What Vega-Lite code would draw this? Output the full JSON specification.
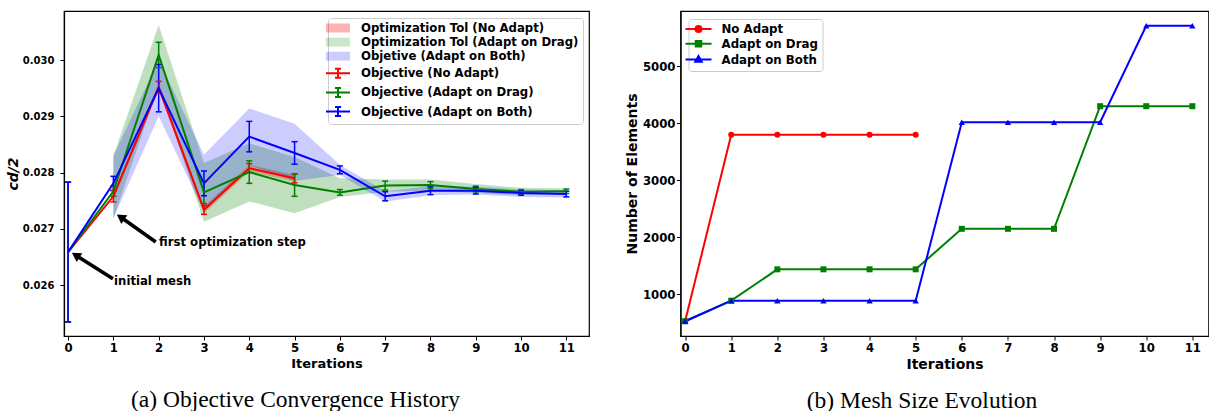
{
  "$schema": "https://vega.github.io/schema/vega-lite/v6.json",
  "padding": {"left": 6, "top": 10, "right": 0, "bottom": 0},
  "background": "white",
  "config": {
    "font": "DejaVu Sans",
    "view": {"stroke": "black", "strokeWidth": 1.2},
    "axis": {"domainColor": "black", "domainWidth": 1.2, "tickColor": "black", "tickSize": 4, "labelFont": "DejaVu Sans", "labelFontWeight": "bold", "labelColor": "black", "titleFont": "DejaVu Sans", "titleFontWeight": "bold", "titleColor": "black", "grid": false, "labelFlush": false},
    "concat": {"spacing": 34.5}
  },
  "datasets": {
    "obj": [
      {"it":0,"band":"Optimization Tol (No Adapt)","line":"Objective (No Adapt)","m":0.02659,"elo":0.02535,"ehi":0.02783,"blo":null,"bhi":null},
      {"it":1,"band":"Optimization Tol (No Adapt)","line":"Objective (No Adapt)","m":0.02758,"elo":0.02748,"ehi":0.02768,"blo":0.02752,"bhi":0.02764},
      {"it":2,"band":"Optimization Tol (No Adapt)","line":"Objective (No Adapt)","m":0.02952,"elo":0.02942,"ehi":0.02962,"blo":0.02946,"bhi":0.02958},
      {"it":3,"band":"Optimization Tol (No Adapt)","line":"Objective (No Adapt)","m":0.02734,"elo":0.02726,"ehi":0.02742,"blo":0.02728,"bhi":0.0274},
      {"it":4,"band":"Optimization Tol (No Adapt)","line":"Objective (No Adapt)","m":0.02808,"elo":0.028,"ehi":0.02816,"blo":0.02802,"bhi":0.02814},
      {"it":5,"band":"Optimization Tol (No Adapt)","line":"Objective (No Adapt)","m":0.0279,"elo":0.02782,"ehi":0.02798,"blo":0.02784,"bhi":0.02796},
      {"it":0,"band":"Optimization Tol (Adapt on Drag)","line":"Objective (Adapt on Drag)","m":0.02659,"elo":0.02535,"ehi":0.02783,"blo":null,"bhi":null},
      {"it":1,"band":"Optimization Tol (Adapt on Drag)","line":"Objective (Adapt on Drag)","m":0.02767,"elo":0.02758,"ehi":0.02776,"blo":0.02718,"bhi":0.0283},
      {"it":2,"band":"Optimization Tol (Adapt on Drag)","line":"Objective (Adapt on Drag)","m":0.03009,"elo":0.029865,"ehi":0.030315,"blo":0.02955,"bhi":0.03062},
      {"it":3,"band":"Optimization Tol (Adapt on Drag)","line":"Objective (Adapt on Drag)","m":0.02765,"elo":0.02745,"ehi":0.02785,"blo":0.02713,"bhi":0.02817},
      {"it":4,"band":"Optimization Tol (Adapt on Drag)","line":"Objective (Adapt on Drag)","m":0.02801,"elo":0.02781,"ehi":0.02821,"blo":0.02749,"bhi":0.02852},
      {"it":5,"band":"Optimization Tol (Adapt on Drag)","line":"Objective (Adapt on Drag)","m":0.02778,"elo":0.02758,"ehi":0.02798,"blo":0.02728,"bhi":0.02828},
      {"it":6,"band":"Optimization Tol (Adapt on Drag)","line":"Objective (Adapt on Drag)","m":0.02765,"elo":0.0276,"ehi":0.0277,"blo":0.02757,"bhi":0.0279},
      {"it":7,"band":"Optimization Tol (Adapt on Drag)","line":"Objective (Adapt on Drag)","m":0.02777,"elo":0.02769,"ehi":0.02785,"blo":0.02766,"bhi":0.02788},
      {"it":8,"band":"Optimization Tol (Adapt on Drag)","line":"Objective (Adapt on Drag)","m":0.02778,"elo":0.02772,"ehi":0.02784,"blo":0.02768,"bhi":0.02788},
      {"it":9,"band":"Optimization Tol (Adapt on Drag)","line":"Objective (Adapt on Drag)","m":0.02771,"elo":0.02766,"ehi":0.02776,"blo":0.02764,"bhi":0.0278},
      {"it":10,"band":"Optimization Tol (Adapt on Drag)","line":"Objective (Adapt on Drag)","m":0.02766,"elo":0.02762,"ehi":0.0277,"blo":0.0276,"bhi":0.02773},
      {"it":11,"band":"Optimization Tol (Adapt on Drag)","line":"Objective (Adapt on Drag)","m":0.02767,"elo":0.02763,"ehi":0.02771,"blo":0.02762,"bhi":0.02772},
      {"it":0,"band":"Objetive (Adapt on Both)","line":"Objective (Adapt on Both)","m":0.02659,"elo":0.02535,"ehi":0.02783,"blo":null,"bhi":null},
      {"it":1,"band":"Objetive (Adapt on Both)","line":"Objective (Adapt on Both)","m":0.02781,"elo":0.027685,"ehi":0.027935,"blo":0.02719,"bhi":0.0283},
      {"it":2,"band":"Objetive (Adapt on Both)","line":"Objective (Adapt on Both)","m":0.0295,"elo":0.02908,"ehi":0.02992,"blo":0.029,"bhi":0.03},
      {"it":3,"band":"Objetive (Adapt on Both)","line":"Objective (Adapt on Both)","m":0.02781,"elo":0.02759,"ehi":0.02803,"blo":0.02731,"bhi":0.02832},
      {"it":4,"band":"Objetive (Adapt on Both)","line":"Objective (Adapt on Both)","m":0.02864,"elo":0.02837,"ehi":0.02891,"blo":0.02813,"bhi":0.02914},
      {"it":5,"band":"Objetive (Adapt on Both)","line":"Objective (Adapt on Both)","m":0.02835,"elo":0.02815,"ehi":0.02855,"blo":0.02785,"bhi":0.02887},
      {"it":6,"band":"Objetive (Adapt on Both)","line":"Objective (Adapt on Both)","m":0.02805,"elo":0.02798,"ehi":0.02812,"blo":0.02796,"bhi":0.02814},
      {"it":7,"band":"Objetive (Adapt on Both)","line":"Objective (Adapt on Both)","m":0.02758,"elo":0.0275,"ehi":0.02766,"blo":0.02749,"bhi":0.02767},
      {"it":8,"band":"Objetive (Adapt on Both)","line":"Objective (Adapt on Both)","m":0.02768,"elo":0.02761,"ehi":0.02775,"blo":0.0276,"bhi":0.02776},
      {"it":9,"band":"Objetive (Adapt on Both)","line":"Objective (Adapt on Both)","m":0.02768,"elo":0.02762,"ehi":0.02774,"blo":0.02761,"bhi":0.02775},
      {"it":10,"band":"Objetive (Adapt on Both)","line":"Objective (Adapt on Both)","m":0.02764,"elo":0.0276,"ehi":0.02768,"blo":0.02757,"bhi":0.0277},
      {"it":11,"band":"Objetive (Adapt on Both)","line":"Objective (Adapt on Both)","m":0.02762,"elo":0.02757,"ehi":0.02767,"blo":0.02756,"bhi":0.02769}
    ],
    "ann": [
      {"label":"initial mesh","tx":0.99,"ty":0.026117,"hx":0.168,"hy":0.026535,"lx":1.015,"ly":0.026082},
      {"label":"first optimization step","tx":1.936,"ty":0.026768,"hx":1.159,"hy":0.027213,"lx":2.009,"ly":0.026768}
    ],
    "mesh": [
      {"it":0,"s":"No Adapt","n":530},{"it":1,"s":"No Adapt","n":3800},{"it":2,"s":"No Adapt","n":3800},{"it":3,"s":"No Adapt","n":3800},{"it":4,"s":"No Adapt","n":3800},{"it":5,"s":"No Adapt","n":3800},
      {"it":0,"s":"Adapt on Drag","n":530},{"it":1,"s":"Adapt on Drag","n":890},{"it":2,"s":"Adapt on Drag","n":1440},{"it":3,"s":"Adapt on Drag","n":1440},{"it":4,"s":"Adapt on Drag","n":1440},{"it":5,"s":"Adapt on Drag","n":1440},{"it":6,"s":"Adapt on Drag","n":2150},{"it":7,"s":"Adapt on Drag","n":2150},{"it":8,"s":"Adapt on Drag","n":2150},{"it":9,"s":"Adapt on Drag","n":4300},{"it":10,"s":"Adapt on Drag","n":4300},{"it":11,"s":"Adapt on Drag","n":4300},
      {"it":0,"s":"Adapt on Both","n":530},{"it":1,"s":"Adapt on Both","n":890},{"it":2,"s":"Adapt on Both","n":890},{"it":3,"s":"Adapt on Both","n":890},{"it":4,"s":"Adapt on Both","n":890},{"it":5,"s":"Adapt on Both","n":890},{"it":6,"s":"Adapt on Both","n":4020},{"it":7,"s":"Adapt on Both","n":4020},{"it":8,"s":"Adapt on Both","n":4020},{"it":9,"s":"Adapt on Both","n":4020},{"it":10,"s":"Adapt on Both","n":5710},{"it":11,"s":"Adapt on Both","n":5710}
    ]
  },
  "hconcat": [
    {
      "width": 525,
      "height": 325,
      "title": {"text": "(a) Objective Convergence History", "orient": "bottom", "font": "Liberation Serif", "fontSize": 23.5, "fontWeight": "normal", "color": "black", "anchor": "middle", "frame": "group", "dx": -31, "offset": 17},
      "layer": [
        {
          "data": {"name": "obj"},
          "mark": {"type": "area", "interpolate": "linear"},
          "encoding": {
            "x": {"field": "it", "type": "quantitative", "title": "Iterations", "scale": {"domain": [-0.09, 11.5], "nice": false, "zero": false}, "axis": {"values": [0,1,2,3,4,5,6,7,8,9,10,11], "format": "d", "labelFontSize": 11.7, "titleFontSize": 13, "labelPadding": 2, "titlePadding": 4}},
            "y": {"field": "blo", "type": "quantitative", "title": "cd/2", "scale": {"domain": [0.0251, 0.03087], "nice": false, "zero": false}, "axis": {"values": [0.026, 0.027, 0.028, 0.029, 0.03], "format": ".3f", "labelFontSize": 10, "titleFontSize": 14, "titleFontStyle": "italic", "labelPadding": 6, "titlePadding": 1.5}},
            "y2": {"field": "bhi"},
            "color": {
              "field": "band", "type": "nominal",
              "scale": {"domain": ["Optimization Tol (No Adapt)", "Optimization Tol (Adapt on Drag)", "Objetive (Adapt on Both)", "Objective (No Adapt)", "Objective (Adapt on Drag)", "Objective (Adapt on Both)"], "range": ["#ff0000", "#008000", "#0000ff", "#ff0000", "#008000", "#0000ff"]},
              "legend": {
                "orient": "top-right", "offset": 6.5, "title": null, "padding": 4, "rowPadding": 1.1, "symbolSize": 100, "labelOffset": 17,
                "labelFont": "DejaVu Sans", "labelFontWeight": "bold", "labelFontSize": 11.7, "labelColor": "black", "labelLimit": 400,
                "strokeColor": "#cccccc", "cornerRadius": 3, "fillColor": "white",
                "encoding": {
                  "symbols": {
                    "shape": {"condition": {"test": "indexof(datum.value, 'Objective (') === 0", "value": "M-2.4,0H2.4M0,-0.9V0.9M-0.6,-0.9H0.6M-0.6,0.9H0.6"}, "value": "M-2.4,-0.9H2.4V0.9H-2.4Z"},
                    "fillOpacity": {"value": {"expr": "indexof(datum.value, 'Objective (') === 0 ? 0 : (datum.value === 'Optimization Tol (No Adapt)' ? 0.3 : 0.2)"}},
                    "strokeOpacity": {"condition": {"test": "indexof(datum.value, 'Objective (') === 0", "value": 1}, "value": 0},
                    "strokeWidth": {"value": 2},
                    "opacity": {"value": 1}
                  }
                }
              }
            },
            "fillOpacity": {"field": "band", "type": "nominal", "scale": {"domain": ["Optimization Tol (No Adapt)", "Optimization Tol (Adapt on Drag)", "Objetive (Adapt on Both)"], "range": [0.3, 0.2, 0.2]}, "legend": null}
          }
        },
        {
          "data": {"name": "obj"},
          "mark": {"type": "rule", "strokeWidth": 1.5},
          "encoding": {
            "x": {"field": "it", "type": "quantitative", "title": "Iterations"},
            "y": {"field": "elo", "type": "quantitative", "title": "cd/2"},
            "y2": {"field": "ehi"},
            "color": {"field": "line", "type": "nominal", "legend": null}
          }
        },
        {
          "data": {"name": "obj"},
          "mark": {"type": "point", "shape": "M-1,0H1", "filled": false, "size": 36, "strokeWidth": 1.5, "opacity": 1},
          "encoding": {
            "x": {"field": "it", "type": "quantitative", "title": "Iterations"},
            "y": {"field": "elo", "type": "quantitative", "title": "cd/2"},
            "color": {"field": "line", "type": "nominal", "legend": null}
          }
        },
        {
          "data": {"name": "obj"},
          "mark": {"type": "point", "shape": "M-1,0H1", "filled": false, "size": 36, "strokeWidth": 1.5, "opacity": 1},
          "encoding": {
            "x": {"field": "it", "type": "quantitative", "title": "Iterations"},
            "y": {"field": "ehi", "type": "quantitative", "title": "cd/2"},
            "color": {"field": "line", "type": "nominal", "legend": null}
          }
        },
        {
          "data": {"name": "obj"},
          "mark": {"type": "line", "strokeWidth": 2},
          "encoding": {
            "x": {"field": "it", "type": "quantitative", "title": "Iterations"},
            "y": {"field": "m", "type": "quantitative", "title": "cd/2"},
            "color": {"field": "line", "type": "nominal", "legend": null}
          }
        },
        {
          "data": {"name": "ann"},
          "mark": {"type": "rule", "strokeWidth": 3.5, "color": "black"},
          "encoding": {
            "x": {"field": "tx", "type": "quantitative", "title": "Iterations"},
            "y": {"field": "ty", "type": "quantitative", "title": "cd/2"},
            "x2": {"field": "hx"},
            "y2": {"field": "hy"}
          }
        },
        {
          "data": {"name": "ann"},
          "transform": [{"filter": "datum.label === 'initial mesh'"}],
          "mark": {"type": "point", "shape": "triangle-up", "filled": true, "color": "black", "size": 110, "opacity": 1, "angle": 302},
          "encoding": {
            "x": {"field": "hx", "type": "quantitative", "title": "Iterations"},
            "y": {"field": "hy", "type": "quantitative", "title": "cd/2"}
          }
        },
        {
          "data": {"name": "ann"},
          "transform": [{"filter": "datum.label === 'first optimization step'"}],
          "mark": {"type": "point", "shape": "triangle-up", "filled": true, "color": "black", "size": 110, "opacity": 1, "angle": 305},
          "encoding": {
            "x": {"field": "hx", "type": "quantitative", "title": "Iterations"},
            "y": {"field": "hy", "type": "quantitative", "title": "cd/2"}
          }
        },
        {
          "data": {"name": "ann"},
          "mark": {"type": "text", "align": "left", "baseline": "middle", "font": "DejaVu Sans", "fontWeight": "bold", "fontSize": 11.7, "color": "black"},
          "encoding": {
            "x": {"field": "lx", "type": "quantitative", "title": "Iterations"},
            "y": {"field": "ly", "type": "quantitative", "title": "cd/2"},
            "text": {"field": "label", "type": "nominal"}
          }
        }
      ]
    },
    {
      "width": 528,
      "height": 325,
      "title": {"text": "(b) Mesh Size Evolution", "orient": "bottom", "font": "Liberation Serif", "fontSize": 23.5, "fontWeight": "normal", "color": "black", "anchor": "middle", "frame": "group", "dx": -22.5, "offset": 17},
      "data": {"name": "mesh"},
      "layer": [
        {
          "mark": {"type": "line", "strokeWidth": 2},
          "encoding": {
            "x": {"field": "it", "type": "quantitative", "title": "Iterations", "scale": {"domain": [-0.1, 11.35], "nice": false, "zero": false}, "axis": {"values": [0,1,2,3,4,5,6,7,8,9,10,11], "format": "d", "labelFontSize": 11.7, "titleFontSize": 14, "labelPadding": 2, "titlePadding": 4}},
            "y": {"field": "n", "type": "quantitative", "title": "Number of Elements", "scale": {"domain": [271, 5969], "nice": false, "zero": false}, "axis": {"values": [1000, 2000, 3000, 4000, 5000], "format": "d", "labelFontSize": 11.7, "titleFontSize": 14, "labelPadding": 1.5, "titlePadding": 3}},
            "color": {
              "field": "s", "type": "nominal",
              "scale": {"domain": ["No Adapt", "Adapt on Drag", "Adapt on Both"], "range": ["#ff0000", "#008000", "#0000ff"]},
              "legend": {
                "orient": "top-left", "offset": 8, "title": null, "padding": 4, "rowPadding": 0.8, "symbolSize": 100, "labelOffset": 17,
                "labelFont": "DejaVu Sans", "labelFontWeight": "bold", "labelFontSize": 11.8, "labelColor": "black", "labelLimit": 300,
                "strokeColor": "#cccccc", "cornerRadius": 3, "fillColor": "white",
                "encoding": {
                  "symbols": {
                    "shape": {"value": {"expr": "datum.value === 'No Adapt' ? 'M-2.6,0H2.6M-0.6,0A0.6,0.6 0 1,0 0.6,0A0.6,0.6 0 1,0 -0.6,0Z' : (datum.value === 'Adapt on Drag' ? 'M-2.6,0H2.6M-0.55,-0.55H0.55V0.55H-0.55Z' : 'M-2.6,0H2.6M0,-0.7L0.65,0.45H-0.65Z')"}},
                    "fill": {"value": {"expr": "datum.value === 'No Adapt' ? '#ff0000' : (datum.value === 'Adapt on Drag' ? '#008000' : '#0000ff')"}},
                    "stroke": {"value": {"expr": "datum.value === 'No Adapt' ? '#ff0000' : (datum.value === 'Adapt on Drag' ? '#008000' : '#0000ff')"}},
                    "strokeWidth": {"value": 2},
                    "opacity": {"value": 1},
                    "fillOpacity": {"value": 1},
                    "strokeOpacity": {"value": 1}
                  }
                }
              }
            }
          }
        },
        {
          "transform": [{"filter": "datum.s === 'No Adapt'"}],
          "mark": {"type": "point", "filled": true, "size": 36, "opacity": 1, "shape": "circle"},
          "encoding": {
            "x": {"field": "it", "type": "quantitative", "title": "Iterations"},
            "y": {"field": "n", "type": "quantitative", "title": "Number of Elements"},
            "color": {"field": "s", "type": "nominal", "legend": null}
          }
        },
        {
          "transform": [{"filter": "datum.s === 'Adapt on Drag'"}],
          "mark": {"type": "point", "filled": true, "size": 36, "opacity": 1, "shape": "square"},
          "encoding": {
            "x": {"field": "it", "type": "quantitative", "title": "Iterations"},
            "y": {"field": "n", "type": "quantitative", "title": "Number of Elements"},
            "color": {"field": "s", "type": "nominal", "legend": null}
          }
        },
        {
          "transform": [{"filter": "datum.s === 'Adapt on Both'"}],
          "mark": {"type": "point", "filled": true, "size": 40, "opacity": 1, "shape": "triangle-up"},
          "encoding": {
            "x": {"field": "it", "type": "quantitative", "title": "Iterations"},
            "y": {"field": "n", "type": "quantitative", "title": "Number of Elements"},
            "color": {"field": "s", "type": "nominal", "legend": null}
          }
        }
      ]
    }
  ],
  "resolve": {"scale": {"color": "independent", "fillOpacity": "independent"}, "legend": {"color": "independent"}}
}
